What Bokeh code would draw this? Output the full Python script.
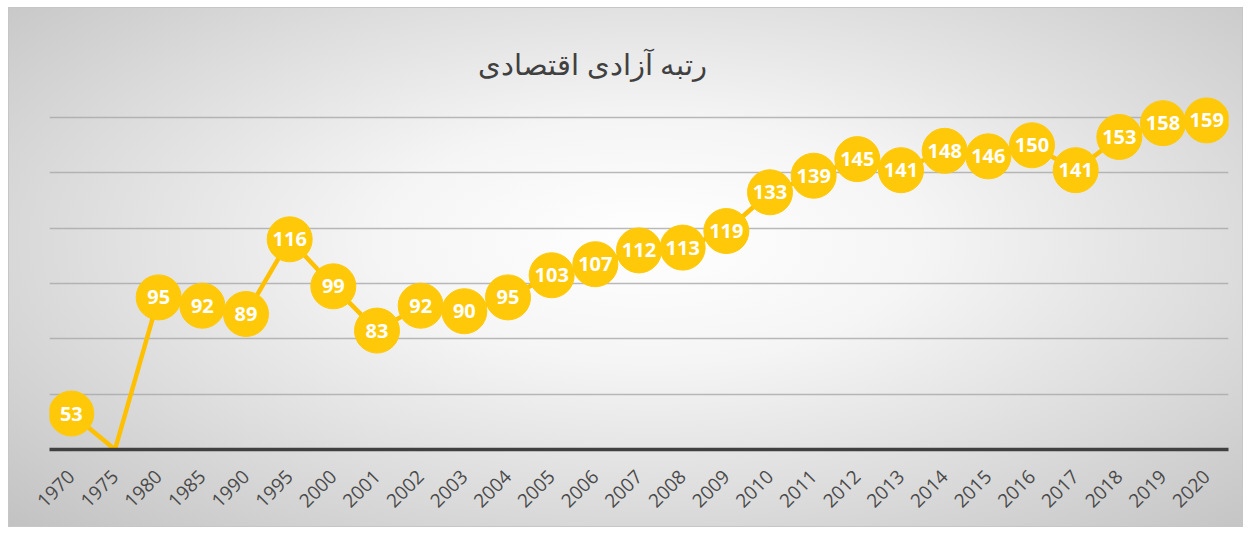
import math
from bokeh.plotting import figure
from bokeh.models import ColumnDataSource, Label, FixedTicker
from bokeh.core.properties import value
from bokeh.embed import file_html
from bokeh.resources import INLINE

title_text = "رتبه آزادی اقتصادی"
years = ["1970", "1975", "1980", "1985", "1990", "1995", "2000", "2001", "2002",
         "2003", "2004", "2005", "2006", "2007", "2008", "2009", "2010", "2011",
         "2012", "2013", "2014", "2015", "2016", "2017", "2018", "2019", "2020"]
ranks = [53, 0, 95, 92, 89, 116, 99, 83, 92, 90, 95, 103, 107, 112, 113, 119,
         133, 139, 145, 141, 148, 146, 150, 141, 153, 158, 159]
y_min, y_max = 40, 160
grid_ticks = [60, 80, 100, 120, 140, 160]

y_plot = [max(v, y_min) for v in ranks]
line_src = ColumnDataSource(dict(x=years, y=y_plot))
pt_idx = [i for i, v in enumerate(ranks) if v > 0]
pt_src = ColumnDataSource(dict(x=[years[i] for i in pt_idx],
                               y=[ranks[i] for i in pt_idx],
                               t=[str(ranks[i]) for i in pt_idx]))

p = figure(x_range=years, y_range=(y_min, 185), width=1235, height=520,
           output_backend="svg", toolbar_location=None,
           min_border_left=41, min_border_right=15, min_border_top=41, min_border_bottom=78)
p.background_fill_color = None
p.border_fill_color = None
p.outline_line_color = None
p.styles = {"margin": "7px 0 0 8px",
            "background": "radial-gradient(ellipse farthest-corner at 52% 45%, #ffffff 0%, #f5f5f5 30%, #dcdcdc 65%, #c2c2c2 100%)",
            "box-shadow": "inset 0 0 0 1px #c6c6c6"}

p.yaxis.visible = False
p.xgrid.grid_line_color = None
p.ygrid.ticker = FixedTicker(ticks=grid_ticks)
p.ygrid.grid_line_color = "#a8a8a8"
p.ygrid.grid_line_width = 1.5
p.ygrid.grid_line_alpha = 0.8

ax = p.xaxis[0]
ax.axis_line_color = "#404040"
ax.axis_line_width = 3.5
ax.major_tick_line_color = None
ax.minor_tick_line_color = None
ax.major_label_orientation = math.pi / 4
ax.major_label_text_font = "Open Sans"
ax.major_label_text_font_size = "19px"
ax.major_label_text_color = "#4a4a4a"
ax.major_label_standoff = 18

p.line("x", "y", source=line_src, line_color="#FFC000", line_width=4.5, line_join="round")
p.scatter("x", "y", source=pt_src, size=45, fill_color="#FFC90A", line_color="#FFC90A")
p.text("x", "y", text="t", source=pt_src, text_align="center", text_baseline="middle",
       text_color="white", text_font=value("Open Sans"), text_font_style="bold",
       text_font_size="20px")

p.add_layout(Label(x=543, y=386, x_units="screen", y_units="screen", text=title_text,
                   text_align="center", text_baseline="middle", text_font="Noto Sans",
                   text_font_size="29px", text_color="#404040"))

open("out.html", "w").write(file_html(p, INLINE))
